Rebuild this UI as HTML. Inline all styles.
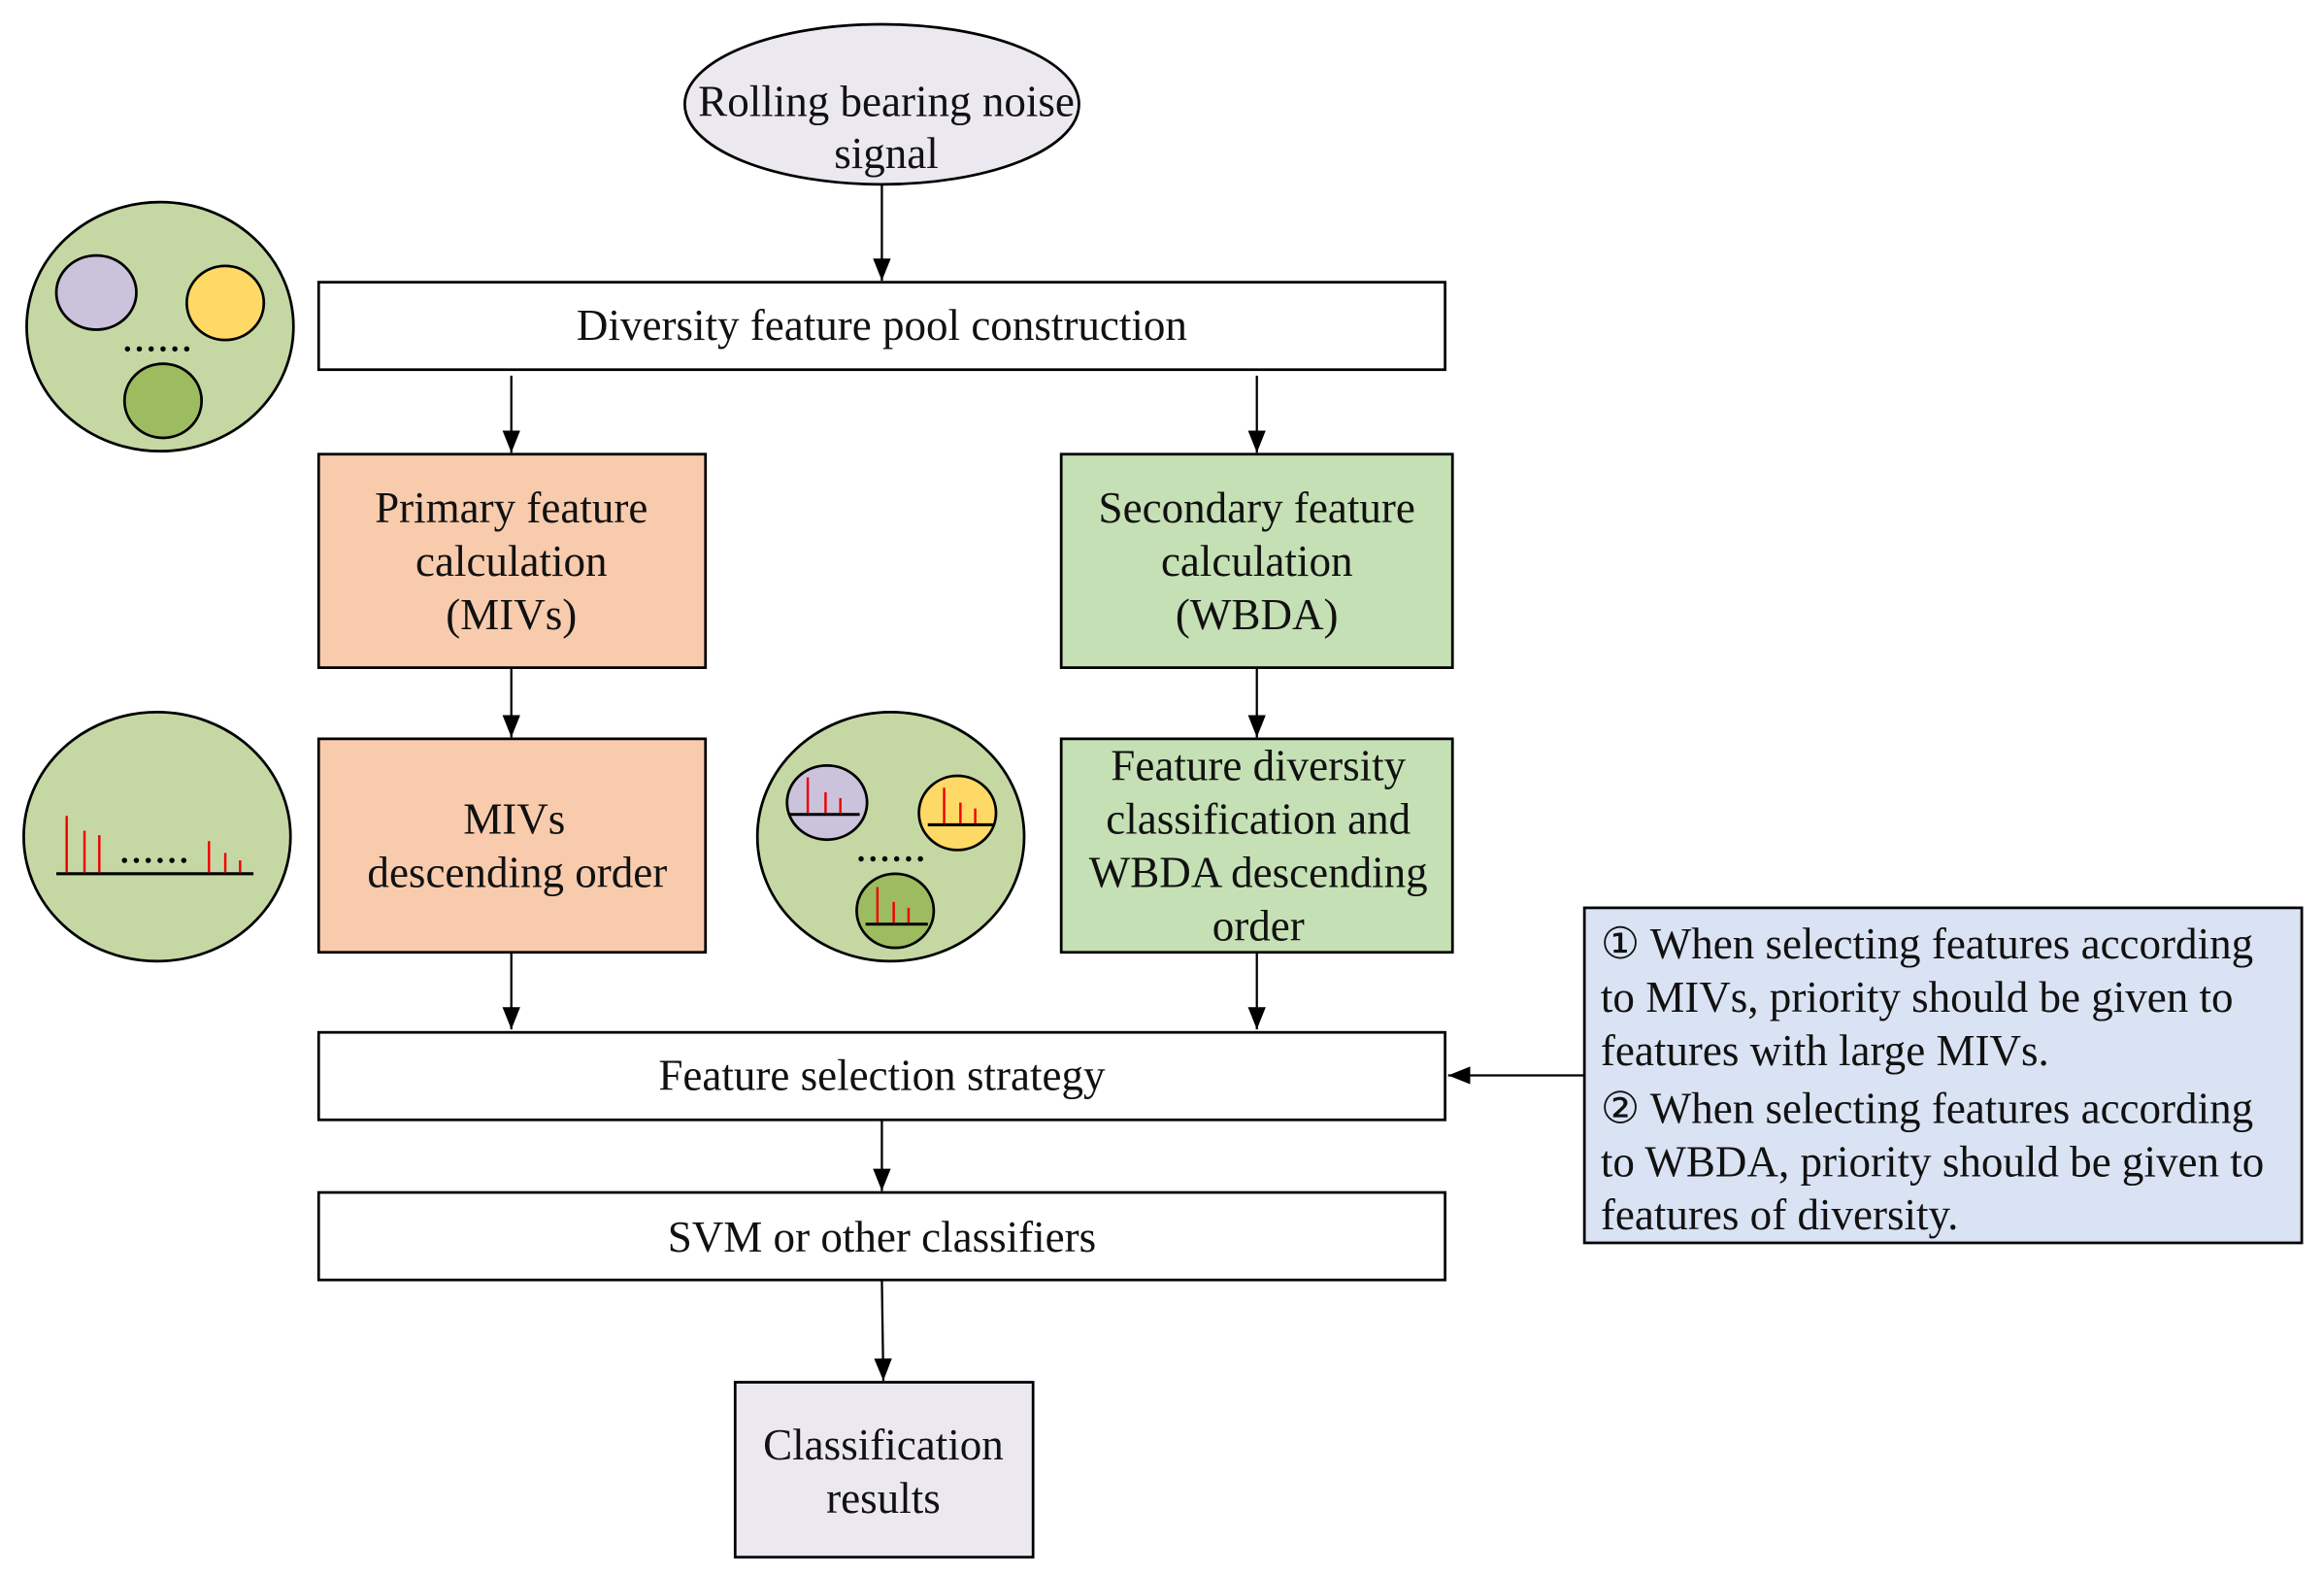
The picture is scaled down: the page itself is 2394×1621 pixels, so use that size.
<!DOCTYPE html>
<html><head><meta charset="utf-8"><style>
html,body{margin:0;padding:0;background:#fff;}
svg{display:block;}
text{font-family:"Liberation Serif","Times New Roman",serif;font-size:29.5px;fill:#111;}
</style></head><body>
<svg width="2394" height="1621" viewBox="0 0 1568 1061" xmlns="http://www.w3.org/2000/svg">
<defs>
<marker id="b" markerWidth="16" markerHeight="14" refX="15" refY="6" orient="auto" markerUnits="userSpaceOnUse"><path d="M0,0 L15,6 L0,12 z" fill="#000"/></marker></defs>
<g stroke="#000" stroke-width="1.5" fill="none">
<line x1="595" y1="124" x2="595" y2="189" marker-end="url(#b)"/>
<line x1="345" y1="253" x2="345" y2="305" marker-end="url(#b)"/>
<line x1="848" y1="253" x2="848" y2="305" marker-end="url(#b)"/>
<line x1="345" y1="450" x2="345" y2="497" marker-end="url(#b)"/>
<line x1="848" y1="450" x2="848" y2="497" marker-end="url(#b)"/>
<line x1="345" y1="642" x2="345" y2="694" marker-end="url(#b)"/>
<line x1="848" y1="642" x2="848" y2="694" marker-end="url(#b)"/>
<line x1="595" y1="755" x2="595" y2="803" marker-end="url(#b)"/>
<line x1="595" y1="863" x2="596" y2="931" marker-end="url(#b)"/>
<line x1="1069" y1="725" x2="977" y2="725" marker-end="url(#b)"/>
</g>
<g stroke="#000" stroke-width="1.8">
<ellipse cx="595" cy="70" rx="133" ry="54" fill="#ebe8f0"/>
<rect x="215" y="190" width="760" height="59" fill="#fff"/>
<rect x="215" y="306" width="261" height="144" fill="#f8cbad"/>
<rect x="716" y="306" width="264" height="144" fill="#c5e0b4"/>
<rect x="215" y="498" width="261" height="144" fill="#f8cbad"/>
<rect x="716" y="498" width="264" height="144" fill="#c5e0b4"/>
<rect x="215" y="696" width="760" height="59" fill="#fff"/>
<rect x="215" y="804" width="760" height="59" fill="#fff"/>
<rect x="496" y="932" width="201" height="118" fill="#ebe8f0"/>
<rect x="1069" y="612" width="484" height="226" fill="#dae3f3"/>
<ellipse cx="108" cy="220" rx="90" ry="84" fill="#c5d8a4"/>
<ellipse cx="65" cy="197" rx="27" ry="25" fill="#cbc3dc"/>
<ellipse cx="152" cy="204" rx="26" ry="25" fill="#fed966"/>
<ellipse cx="110" cy="270" rx="26" ry="25" fill="#9dbc5f"/>
<ellipse cx="106" cy="564" rx="90" ry="84" fill="#c5d8a4"/>
<ellipse cx="601" cy="564" rx="90" ry="84" fill="#c5d8a4"/>
<ellipse cx="558" cy="541" rx="27" ry="25" fill="#cbc3dc"/>
<ellipse cx="646" cy="548" rx="26" ry="25" fill="#fed966"/>
<ellipse cx="604" cy="614" rx="26" ry="25" fill="#9dbc5f"/>
</g>
<g stroke="#000" stroke-width="2">
<line x1="38" y1="589" x2="171" y2="589"/>
<line x1="532" y1="549" x2="580" y2="549"/>
<line x1="626" y1="556" x2="671" y2="556"/>
<line x1="584" y1="623" x2="626" y2="623"/>
</g>
<g stroke="#e00" stroke-width="1.6">
<line x1="45" y1="588" x2="45" y2="550"/><line x1="57" y1="588" x2="57" y2="560"/><line x1="67" y1="588" x2="67" y2="563"/>
<line x1="141" y1="588" x2="141" y2="567"/><line x1="152" y1="588" x2="152" y2="575"/><line x1="162" y1="588" x2="162" y2="580"/>
<line x1="545" y1="548" x2="545" y2="524"/><line x1="557" y1="548" x2="557" y2="534"/><line x1="567" y1="548" x2="567" y2="538"/>
<line x1="637" y1="555" x2="637" y2="531"/><line x1="648" y1="555" x2="648" y2="541"/><line x1="658" y1="555" x2="658" y2="545"/>
<line x1="592" y1="622" x2="592" y2="598"/><line x1="603" y1="622" x2="603" y2="608"/><line x1="613" y1="622" x2="613" y2="612"/>
</g>
<g fill="#000">
<circle cx="86" cy="235" r="1.8"/><circle cx="94" cy="235" r="1.8"/><circle cx="102" cy="235" r="1.8"/><circle cx="110" cy="235" r="1.8"/><circle cx="118" cy="235" r="1.8"/><circle cx="126" cy="235" r="1.8"/>
<circle cx="84" cy="580" r="1.8"/><circle cx="92" cy="580" r="1.8"/><circle cx="100" cy="580" r="1.8"/><circle cx="108" cy="580" r="1.8"/><circle cx="116" cy="580" r="1.8"/><circle cx="124" cy="580" r="1.8"/>
<circle cx="581" cy="579" r="1.8"/><circle cx="589" cy="579" r="1.8"/><circle cx="597" cy="579" r="1.8"/><circle cx="605" cy="579" r="1.8"/><circle cx="613" cy="579" r="1.8"/><circle cx="621" cy="579" r="1.8"/>
</g>
<g text-anchor="middle">
<text x="598" y="78">Rolling bearing noise</text>
<text x="598" y="113">signal</text>
<text x="595" y="229">Diversity feature pool construction</text>
<text x="345" y="352">Primary feature</text>
<text x="345" y="388">calculation</text>
<text x="345" y="424">(MIVs)</text>
<text x="848" y="352">Secondary feature</text>
<text x="848" y="388">calculation</text>
<text x="848" y="424">(WBDA)</text>
<text x="347" y="562">MIVs</text>
<text x="349" y="598">descending order</text>
<text x="849" y="526">Feature diversity</text>
<text x="849" y="562">classification and</text>
<text x="849" y="598">WBDA descending</text>
<text x="849" y="634">order</text>
<text x="595" y="735">Feature selection strategy</text>
<text x="595" y="844">SVM or other classifiers</text>
<text x="596" y="984">Classification</text>
<text x="596" y="1020">results</text>
</g>
<g>
<text x="1080" y="646">① When selecting features according</text>
<text x="1080" y="682">to MIVs, priority should be given to</text>
<text x="1080" y="718">features with large MIVs.</text>
<text x="1080" y="757">② When selecting features according</text>
<text x="1080" y="793">to WBDA, priority should be given to</text>
<text x="1080" y="829">features of diversity.</text>
</g>
</svg>
</body></html>
